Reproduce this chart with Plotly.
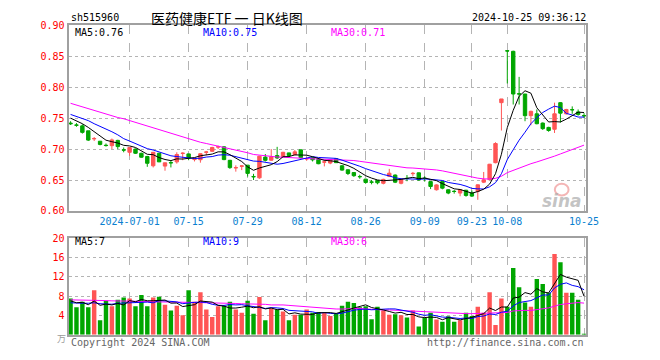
import plotly.graph_objects as go
import pandas as pd
import numpy as np

# ---------------- data ----------------
dates = [
    "2024-06-17","2024-06-18","2024-06-19","2024-06-20","2024-06-21","2024-06-24","2024-06-25","2024-06-26","2024-06-27","2024-06-28",
    "2024-07-01","2024-07-02","2024-07-03","2024-07-04","2024-07-05","2024-07-08","2024-07-09","2024-07-10","2024-07-11","2024-07-12",
    "2024-07-15","2024-07-16","2024-07-17","2024-07-18","2024-07-19","2024-07-22","2024-07-23","2024-07-24","2024-07-25","2024-07-26",
    "2024-07-29","2024-07-30","2024-07-31",
    "2024-08-01","2024-08-02","2024-08-05","2024-08-06","2024-08-07","2024-08-08","2024-08-09","2024-08-12","2024-08-13","2024-08-14",
    "2024-08-15","2024-08-16","2024-08-19","2024-08-20","2024-08-21","2024-08-22","2024-08-23","2024-08-26","2024-08-27","2024-08-28",
    "2024-08-29","2024-08-30",
    "2024-09-02","2024-09-03","2024-09-04","2024-09-05","2024-09-06","2024-09-09","2024-09-10","2024-09-11","2024-09-12","2024-09-13",
    "2024-09-18","2024-09-19","2024-09-20","2024-09-23","2024-09-24","2024-09-25","2024-09-26","2024-09-27","2024-09-30",
    "2024-10-08","2024-10-09","2024-10-10","2024-10-11","2024-10-14","2024-10-15","2024-10-16","2024-10-17","2024-10-18","2024-10-21",
    "2024-10-22","2024-10-23","2024-10-24","2024-10-25",
]

open_ = [0.742,0.739,0.7375,0.7295,0.7165,0.7127,0.7062,0.7055,0.714,0.6988,
         0.6948,0.700,0.6932,0.688,0.673,0.6932,0.6725,0.6782,0.6793,0.6928,
         0.6922,0.683,0.6828,0.6948,0.6964,0.7032,0.7036,0.6818,0.6695,0.6722,
         0.674,0.6557,0.6535,
         0.687,0.682,0.6895,0.688,0.6938,0.691,0.6988,0.684,0.6858,0.6832,
         0.6788,0.6774,0.6842,0.673,0.6665,0.662,0.6557,0.6514,0.6468,0.649,
         0.6447,0.656,
         0.658,0.6447,0.6528,0.6602,0.6616,0.6528,0.6474,0.6342,0.6474,0.6342,
         0.6318,0.6289,0.6335,0.629,0.6317,0.6465,0.6505,0.678,0.775,
         0.859,0.858,0.7895,0.789,0.754,0.757,0.742,0.735,0.732,0.775,
         0.757,0.7638,0.760,0.7542]
close = [0.741,0.7385,0.727,0.7145,0.717,0.7075,0.7057,0.7148,0.704,0.6983,
         0.7026,0.6932,0.6868,0.677,0.6948,0.6793,0.6778,0.6777,0.6912,0.6933,
         0.6855,0.6835,0.6925,0.6953,0.7026,0.7037,0.683,0.670,0.670,0.6727,
         0.6607,0.6552,0.6885,
         0.6818,0.6875,0.6856,0.6948,0.6896,0.6955,0.6862,0.6845,0.6826,0.6763,
         0.6793,0.6826,0.678,0.666,0.6605,0.657,0.6553,0.646,0.6465,0.6455,
         0.651,0.661,
         0.6465,0.651,0.6524,0.6607,0.650,0.6524,0.6395,0.6421,0.6368,0.6289,
         0.6314,0.6342,0.625,0.624,0.6422,0.6503,0.6755,0.709,0.781,
         0.8585,0.789,0.789,0.754,0.761,0.741,0.733,0.730,0.757,0.758,
         0.764,0.7634,0.756,0.7538]
high = [0.745,0.742,0.740,0.7295,0.7195,0.713,0.709,0.717,0.715,0.7026,
        0.703,0.701,0.694,0.689,0.695,0.694,0.678,0.6817,0.6948,0.6948,
        0.6925,0.686,0.693,0.697,0.7036,0.7055,0.7045,0.6825,0.6737,0.6737,
        0.674,0.660,0.689,
        0.692,0.700,0.7036,0.6955,0.694,0.6985,0.699,0.687,0.6865,0.684,
        0.6826,0.684,0.685,0.674,0.667,0.6625,0.6585,0.652,0.650,0.650,
        0.652,0.668,
        0.659,0.652,0.658,0.663,0.662,0.656,0.648,0.643,0.648,0.635,
        0.634,0.635,0.634,0.633,0.643,0.663,0.676,0.711,0.781,
        0.859,0.859,0.8167,0.789,0.762,0.764,0.743,0.736,0.775,0.776,
        0.765,0.769,0.764,0.758]
low = [0.739,0.736,0.725,0.713,0.713,0.706,0.704,0.700,0.700,0.6948,
       0.689,0.692,0.686,0.6713,0.6703,0.679,0.665,0.6703,0.6765,0.682,
       0.682,0.680,0.678,0.690,0.6955,0.700,0.682,0.668,0.6635,0.666,
       0.6555,0.650,0.652,
       0.680,0.681,0.684,0.687,0.688,0.690,0.685,0.681,0.680,0.6755,
       0.672,0.6755,0.678,0.665,0.658,0.655,0.652,0.644,0.643,0.643,
       0.643,0.655,
       0.645,0.643,0.648,0.6565,0.649,0.6474,0.6353,0.633,0.635,0.627,
       0.628,0.6237,0.623,0.6225,0.618,0.645,0.650,0.677,0.730,
       0.806,0.772,0.772,0.745,0.7385,0.740,0.731,0.728,0.726,0.743,
       0.756,0.757,0.754,0.750]
volume = [7.47,5.67,6.8,5.67,9.2,3.0,7.0,5.87,7.2,7.67,
          7.47,5.87,8.2,5.87,7.67,7.87,6.2,5.0,6.0,4.0,
          9.2,6.8,8.8,5.2,3.67,5.87,6.0,6.8,5.2,4.53,
          7.0,4.33,7.8,
          3.0,5.47,5.2,4.8,3.0,4.13,4.13,5.2,4.53,4.7,
          4.53,3.87,4.33,6.0,6.8,6.53,5.67,5.87,3.2,5.8,
          5.0,4.13,
          4.2,4.0,3.53,5.0,1.67,3.47,4.53,3.13,2.67,3.8,
          2.67,3.0,4.53,3.87,5.8,4.53,8.8,2.0,7.47,
          5.8,13.8,9.8,6.67,5.8,11.53,10.47,8.67,16.67,15.0,
          8.67,8.67,7.2,0.2]

# moving-average values for the first bars (window reaches before the visible data)
ma5_head = [0.750, 0.746, 0.741, 0.735]
ma10_head = [0.756, 0.753, 0.750, 0.746, 0.741, 0.737, 0.732, 0.728, 0.723]
ma30_head = [0.774, 0.771, 0.768, 0.765, 0.763, 0.760, 0.757, 0.754, 0.751, 0.749,
             0.746, 0.743, 0.740, 0.737, 0.734, 0.731, 0.728, 0.725, 0.722, 0.719,
             0.716, 0.714, 0.711, 0.709, 0.707, 0.705, 0.703, 0.701, 0.699]
vma5_head = [7.0, 6.6, 6.7, 6.2]
vma10_head = [6.6, 6.5, 6.5, 6.5, 6.6, 6.4, 6.3, 6.3, 6.5]
vma30_head = [7.2, 7.2, 7.2, 7.15, 7.1, 7.1, 7.05, 7.0, 7.0, 6.95,
              6.9, 6.9, 6.85, 6.85, 6.8, 6.8, 6.8, 6.8, 6.75, 6.75,
              6.7, 6.7, 6.65, 6.6, 6.6, 6.55, 6.5, 6.5, 6.45]

tick_dates = ["2024-07-01","2024-07-15","2024-07-29","2024-08-12","2024-08-26",
              "2024-09-09","2024-09-23","2024-10-08","2024-10-25"]
tick_labels = ["2024-07-01","07-15","07-29","08-12","08-26","09-09","09-23","10-08","10-25"]
price_ticks = [0.60, 0.65, 0.70, 0.75, 0.80, 0.85, 0.90]
vol_ticks = [4, 8, 12, 16, 20]

title_code = "sh515960"
title_name = "医药健康ETF 一 日K线图"
timestamp = "2024-10-25 09:36:12"
price_legend = ["MA5:0.76", "MA10:0.75", "MA30:0.71"]
vol_legend = ["MA5:7", "MA10:9", "MA30:6"]

# ---------------- derived ----------------
def ma(series, n, head):
    m = pd.Series(series).rolling(n).mean().to_numpy()
    m[:len(head)] = head
    return m

ma5 = ma(close, 5, ma5_head)
ma10 = ma(close, 10, ma10_head)
ma30 = ma(close, 30, ma30_head)
vma5 = ma(volume, 5, vma5_head)
vma10 = ma(volume, 10, vma10_head)
vma30 = ma(volume, 30, vma30_head)

RED = "#ff5555"
GREEN = "#00a600"
MAC = ["#000000", "#0000ff", "#ff00ff"]
MONO = "DejaVu Sans Mono"
W, H = 660, 360

def fx(px):
    return px / W

def fy(py):
    return 1 - py / H

vol_colors = [RED if c >= o else GREEN for o, c in zip(open_, close)]

fig = go.Figure()
fig.add_trace(go.Candlestick(
    x=dates, open=open_, high=high, low=low, close=close,
    increasing=dict(line=dict(color=RED, width=1), fillcolor=RED),
    decreasing=dict(line=dict(color=GREEN, width=1), fillcolor=GREEN),
    xaxis="x", yaxis="y", showlegend=False, hoverinfo="skip"))
for m, c in zip([ma30, ma10, ma5], [MAC[2], MAC[1], MAC[0]]):
    fig.add_trace(go.Scatter(x=dates, y=m, mode="lines", line=dict(color=c, width=1),
                             xaxis="x", yaxis="y", showlegend=False, hoverinfo="skip"))

fig.add_trace(go.Bar(x=dates, y=volume, marker=dict(color=vol_colors, line=dict(width=0)),
                     xaxis="x2", yaxis="y2", showlegend=False, hoverinfo="skip"))
for m, c in zip([vma30, vma10, vma5], [MAC[2], MAC[1], MAC[0]]):
    fig.add_trace(go.Scatter(x=dates, y=m, mode="lines", line=dict(color=c, width=1),
                             xaxis="x2", yaxis="y2", showlegend=False, hoverinfo="skip"))

xr = [-0.33, len(dates) - 1 + 0.37]
axis_common = dict(showline=True, mirror=True, linecolor="#a0a0a0", linewidth=2,
                   zeroline=False, fixedrange=True)
x_common = dict(type="category", range=xr, tickvals=tick_dates, showgrid=True,
                gridcolor="#b4b4b4", griddash="dash", gridwidth=1, ticks="",
                **axis_common)

fig.update_layout(
    width=W, height=H, autosize=False,
    margin=dict(l=0, r=0, t=0, b=0),
    paper_bgcolor="white", plot_bgcolor="white",
    bargap=0.25, boxgap=0.18,
    xaxis=dict(domain=[fx(70), fx(598)], anchor="y", ticktext=tick_labels,
               tickfont=dict(family=MONO, size=10, color="#0a7fd0"),
               rangeslider=dict(visible=False), **x_common),
    xaxis2=dict(domain=[fx(70), fx(598)], anchor="y2", showticklabels=False, **x_common),
    yaxis=dict(domain=[fy(212), fy(20)], anchor="x", range=[0.60, 0.90],
               tickvals=price_ticks, ticktext=[f"{v:.2f}" for v in price_ticks],
               tickfont=dict(family=MONO, size=10, color="#ff0000"),
               showgrid=True, gridcolor="#b4b4b4", griddash="dot", ticks="", **axis_common),
    yaxis2=dict(domain=[fy(340), fy(240)], anchor="x2", range=[0, 20],
                tickvals=vol_ticks, ticktext=[str(v) for v in vol_ticks],
                tickfont=dict(family=MONO, size=10, color="#ff0000"),
                showgrid=True, gridcolor="#b4b4b4", griddash="dot", ticks="", **axis_common),
)

ann = []
def text(x, y, s, color="#000", size=10, anchor="left", family=MONO, **kw):
    ann.append(dict(x=fx(x), y=fy(y), xref="paper", yref="paper", text=s, showarrow=False,
                    xanchor=anchor, yanchor="middle", font=dict(family=family, size=size, color=color), **kw))

text(70, 12, title_code)
text(152, 12, title_name, size=14, family="Noto Sans CJK SC")
text(600, 12, timestamp, anchor="right")
text(74, 27, price_legend[0], color=MAC[0])
text(205, 27, price_legend[1], color=MAC[1])
text(336, 27, price_legend[2], color=MAC[2])
text(74, 244, vol_legend[0], color=MAC[0])
text(205, 244, vol_legend[1], color=MAC[1])
text(336, 244, vol_legend[2], color=MAC[2])
text(70, 348, "Copyright 2024 SINA.COM", color="#666")
text(598, 348, "http://finance.sina.com.cn", color="#666", anchor="right")
text(63, 344, "万", color="#999", size=9, family="Noto Sans CJK SC", anchor="center")
text(596, 202, "<i><b>sina</b></i>", color="rgba(170,170,170,0.7)", size=17, anchor="right", family="DejaVu Sans")
fig.update_layout(annotations=ann)
fig.add_shape(type="circle", xref="paper", yref="paper",
              x0=fx(566), x1=fx(580), y0=fy(196), y1=fy(184),
              line=dict(color="rgba(240,150,150,0.7)", width=2))

fig.write_html("out.html", config={"displayModeBar": False, "staticPlot": True},
               post_script="document.body.style.margin='0px';document.body.style.overflow='hidden';")
